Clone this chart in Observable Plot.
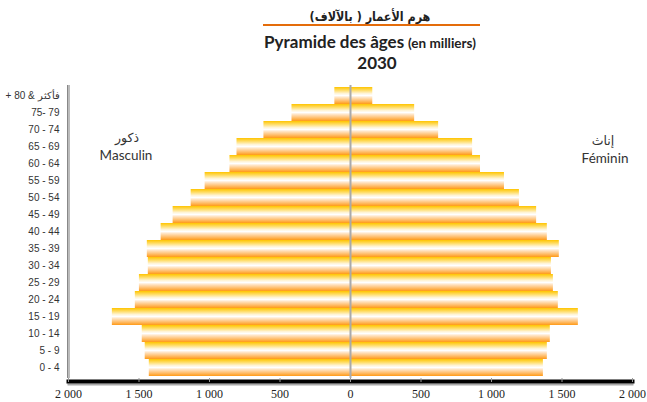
<!DOCTYPE html>
<html>
<head>
<meta charset="utf-8">
<script src="https://cdn.jsdelivr.net/npm/d3@7"></script>
<script src="https://cdn.jsdelivr.net/npm/@observablehq/plot@0.6"></script>
<style>
  html, body { margin: 0; padding: 0; background: #fff; }
  #wrap { position: relative; width: 647px; height: 402px; overflow: hidden; font-family: Lato, "Open Sans", sans-serif; }
  .t { position: absolute; transform: translate(-50%, -50%); white-space: nowrap; line-height: 1; color: #222; }
  #chart { position: absolute; left: 0; top: 76px; }
</style>
</head>
<body>
<div id="wrap">
  <div class="t" style="left:370px; top:16px; font-size:13px; font-weight:bold; font-family:'DejaVu Sans', sans-serif; transform: translate(-50%, -50%) scaleX(0.86);">هرم الأعمار ( بالآلاف)</div>
  <div style="position:absolute; left:263px; top:24px; width:217px; height:2px; background:#E46C0A;"></div>
  <div class="t" style="left:370px; top:42px; font-weight:bold;"><span style="font-size:17px;">Pyramide des âges</span> <span style="font-size:13.5px;">(en milliers)</span></div>
  <div class="t" style="left:377px; top:62px; font-size:17px; font-weight:bold;">2030</div>
  <div class="t" style="left:127px; top:138px; font-size:12.5px; color:#333; font-family:'DejaVu Sans', sans-serif;">ذكور</div>
  <div class="t" style="left:126px; top:156px; font-size:13.5px; color:#333;">Masculin</div>
  <div class="t" style="left:603px; top:141px; font-size:12.5px; color:#333; font-family:'DejaVu Sans', sans-serif;">إناث</div>
  <div class="t" style="left:605px; top:159px; font-size:13.5px; color:#333;">Féminin</div>
  <div id="chart"></div>
</div>
<script>
const ages = ["0 - 4","5 - 9","10 - 14","15 - 19","20 - 24","25 - 29","30 - 34","35 - 39","40 - 44","45 - 49","50 - 54","55 - 59","60 - 64","65 - 69","70 - 74","75- 79","\u200E+ 80 & فأكثر"];
const male = [1427,1456,1477,1689,1526,1497,1434,1441,1343,1258,1130,1031,855,805,614,415,111];
const female = [1368,1396,1417,1616,1474,1439,1425,1481,1396,1320,1198,1092,922,866,625,455,158];
const xTicks = [-2000,-1500,-1000,-500,0,500,1000,1500,2000];

const males = ages.map((a, i) => ({age: a, v: -male[i]}));
const females = ages.map((a, i) => ({age: a, v: female[i]}));

const loc = d3.formatLocale({decimal: ",", thousands: "\u00a0", grouping: [3], currency: ["", ""]});
const fmt = loc.format(",");

const chart = Plot.plot({
  width: 647,
  height: 326,
  marginLeft: 68,
  marginRight: 15,
  marginTop: 9,
  marginBottom: 24,
  x: {domain: [-2000, 2000], axis: null, label: null},
  y: {domain: ages.slice().reverse(), padding: 0.02, axis: null, label: null},
  marks: [
    Plot.barX(males, {x: "v", y: "age", fill: "url(#barGrad)"}),
    Plot.barX(females, {x: "v", y: "age", fill: "url(#barGrad)"}),
    Plot.ruleX([0], {stroke: "#aaa", strokeWidth: 2}),
    Plot.ruleX([-2000], {stroke: "#bbb", strokeWidth: 3}),
    Plot.ruleX([-2000], {stroke: "#888", strokeWidth: 1, dx: -1}),
    Plot.frame({anchor: "bottom", stroke: "#aaa", strokeWidth: 2, dy: 6}),
    Plot.frame({anchor: "bottom", stroke: "#000", strokeWidth: 4, dy: 3}),
    Plot.axisX({ticks: xTicks, tickFormat: d => fmt(Math.abs(d)), tickSize: 4, tickPadding: 7, stroke: "#999", fill: "#222", fontSize: 12, fontFamily: "'Liberation Serif', serif", label: null}),
    Plot.axisY({tickSize: 0, tickPadding: 9, fill: "#333", fontSize: 10, fontFamily: "'Liberation Sans', Arial, sans-serif", label: null})
  ]
});

// age labels read left to right, Arabic word last
d3.select(chart).selectAll("text").filter(function() { return /[\u0600-\u06FF]/.test(this.textContent); })
  .style("direction", "ltr").style("unicode-bidi", "embed");

const defs = d3.select(chart).insert("defs", ":first-child");
const g = defs.append("linearGradient").attr("id", "barGrad").attr("x1", 0).attr("y1", 0).attr("x2", 0).attr("y2", 1);
[[0, "#FFC400"], [0.18, "#FFDB5E"], [0.38, "#FFF4D6"], [0.5, "#FFFFFF"], [0.62, "#FFE3C2"], [0.82, "#FFBD6A"], [1, "#FF9A17"]]
  .forEach(([o, c]) => g.append("stop").attr("offset", o).attr("stop-color", c));

document.getElementById("chart").appendChild(chart);
</script>
</body>
</html>
